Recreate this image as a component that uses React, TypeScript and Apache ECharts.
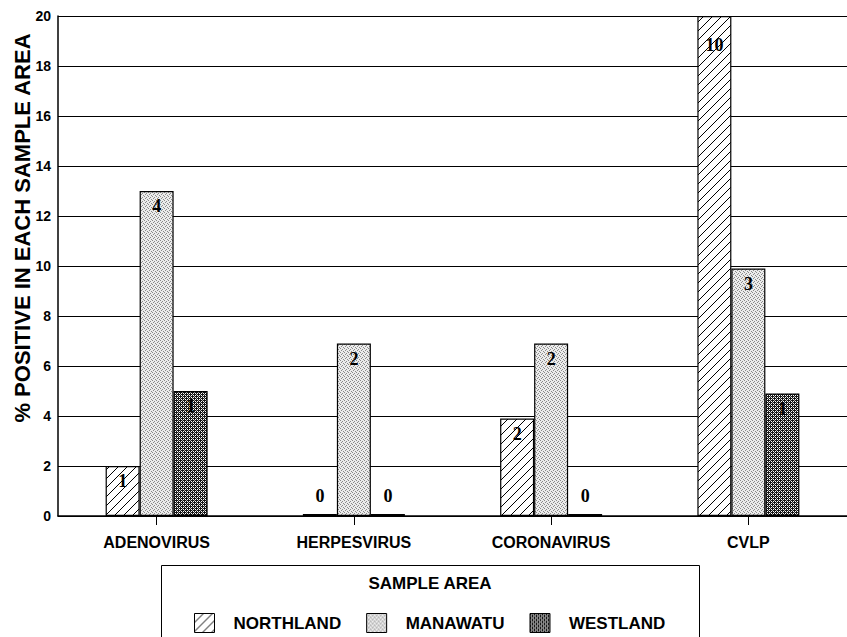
import React, { useEffect, useRef } from 'react';
import * as echarts from 'echarts';

const categories = ['ADENOVIRUS', 'HERPESVIRUS', 'CORONAVIRUS', 'CVLP'];
const seriesNames = ['NORTHLAND', 'MANAWATU', 'WESTLAND'];
const northland = [2, 0, 3.9, 20];
const manawatu = [13, 6.9, 6.9, 9.9];
const westland = [5, 0, 0, 4.9];
const northlandCounts = [1, 0, 2, 10];
const manawatuCounts = [4, 2, 2, 3];
const westlandCounts = [1, 0, 0, 1];
const yMin = 0;
const yMax = 20;
const yStep = 2;
const yTitle = '% POSITIVE IN EACH SAMPLE AREA';
const legendTitle = 'SAMPLE AREA';

const SANS = '"Liberation Sans", Arial, sans-serif';
const SERIF = '"Liberation Serif", "Times New Roman", serif';

function makeTile(size: number, draw: (ctx: CanvasRenderingContext2D, s: number) => void) {
  const c = document.createElement('canvas');
  c.width = size;
  c.height = size;
  const ctx = c.getContext('2d') as CanvasRenderingContext2D;
  draw(ctx, size);
  return { image: c, repeat: 'repeat', imageWidth: size, imageHeight: size } as any;
}

function hatchPattern() {
  return makeTile(9, (ctx, s) => {
    ctx.fillStyle = '#fff';
    ctx.fillRect(0, 0, s, s);
    ctx.strokeStyle = '#000';
    ctx.lineWidth = 1;
    ctx.beginPath();
    ctx.moveTo(0, s);
    ctx.lineTo(s, 0);
    ctx.moveTo(-1, 1);
    ctx.lineTo(1, -1);
    ctx.moveTo(s - 1, s + 1);
    ctx.lineTo(s + 1, s - 1);
    ctx.stroke();
  });
}

function stipplePattern() {
  return makeTile(4, (ctx, s) => {
    ctx.fillStyle = '#ececec';
    ctx.fillRect(0, 0, s, s);
    ctx.fillStyle = '#8a8a8a';
    ctx.fillRect(0, 0, 1, 1);
    ctx.fillRect(2, 1, 1, 1);
    ctx.fillRect(1, 2, 1, 1);
    ctx.fillRect(3, 3, 1, 1);
  });
}

function checkPattern() {
  return makeTile(4, (ctx, s) => {
    ctx.fillStyle = '#151515';
    ctx.fillRect(0, 0, s, s);
    ctx.fillStyle = '#ffffff';
    ctx.fillRect(1, 1, 1, 1);
    ctx.fillRect(3, 3, 1, 1);
    ctx.fillRect(1, 3, 1, 1);
    ctx.fillRect(3, 1, 1, 1);
    ctx.fillStyle = '#b0b0b0';
    ctx.fillRect(0, 2, 1, 1);
    ctx.fillRect(2, 0, 1, 1);
  });
}

export default function App() {
  const ref = useRef<HTMLDivElement>(null);

  useEffect(() => {
    if (!ref.current) return;
    const chart = echarts.init(ref.current, undefined, { renderer: 'svg' });

    const labelBase = {
      show: true,
      position: 'insideTop',
      distance: 6,
      fontFamily: SERIF,
      fontWeight: 'bold',
      fontSize: 18,
      color: '#000',
    };

    const makeSeries = (name: string, values: number[], counts: number[], pattern: any) => ({
      name,
      type: 'bar',
      barWidth: 34,
      barGap: '0%',
      barMinHeight: 2,
      data: values.map((v) => {
        const item: any = { value: v };
        if (v === 0) item.label = { position: 'top', distance: 9 };
        else if (v >= yMax) item.label = { position: 'insideTop', distance: 20 };
        return item;
      }),
      itemStyle: { color: pattern, borderColor: '#000', borderWidth: 1.2 },
      label: { ...labelBase, formatter: (p: any) => String(counts[p.dataIndex]) },
    });

    const option: any = {
      animation: false,
      backgroundColor: '#fff',
      grid: { left: 58, top: 16, width: 802, height: 500 },
      xAxis: {
        type: 'category',
        data: categories,
        axisLine: { show: true, lineStyle: { color: '#000', width: 1.5 } },
        axisTick: { show: true, alignWithLabel: true, length: 9, lineStyle: { color: '#000', width: 1 } },
        axisLabel: {
          color: '#000',
          fontFamily: SANS,
          fontWeight: 'bold',
          fontSize: 16,
          margin: 18,
        },
      },
      yAxis: {
        type: 'value',
        min: yMin,
        max: yMax,
        interval: yStep,
        axisLine: { show: true, lineStyle: { color: '#000', width: 1.5 } },
        axisTick: { show: false },
        axisLabel: {
          color: '#000',
          fontFamily: SANS,
          fontWeight: 'bold',
          fontSize: 14,
          margin: 7,
        },
        splitLine: { show: true, lineStyle: { color: '#000', width: 1.2 } },
      },
      legend: {
        data: seriesNames,
        left: 189,
        top: 608,
        icon: 'rect',
        itemWidth: 20,
        itemHeight: 19,
        itemGap: 25,
        textStyle: {
          color: '#000',
          fontFamily: SANS,
          fontWeight: 'bold',
          fontSize: 17,
          padding: [0, 0, 0, 14],
        },
        itemStyle: { borderColor: '#000', borderWidth: 1 },
      },
      graphic: [
        {
          type: 'rect',
          shape: { x: 161.5, y: 565.5, width: 538, height: 100 },
          style: { fill: 'none', stroke: '#000', lineWidth: 1 },
          silent: true,
        },
        {
          type: 'text',
          x: 430,
          y: 583,
          style: {
            text: legendTitle,
            align: 'center',
            verticalAlign: 'middle',
            fontFamily: SANS,
            fontWeight: 'bold',
            fontSize: 17,
            fill: '#000',
          },
        },
        {
          type: 'text',
          x: 22,
          y: 228,
          rotation: Math.PI / 2,
          style: {
            text: yTitle,
            align: 'center',
            verticalAlign: 'middle',
            fontFamily: SANS,
            fontWeight: 'bold',
            fontSize: 22,
            fill: '#000',
          },
        },
      ],
      series: [
        makeSeries(seriesNames[0], northland, northlandCounts, hatchPattern()),
        makeSeries(seriesNames[1], manawatu, manawatuCounts, stipplePattern()),
        makeSeries(seriesNames[2], westland, westlandCounts, checkPattern()),
      ],
    };

    chart.setOption(option);
    return () => chart.dispose();
  }, []);

  return (
    <div
      ref={ref}
      style={{ position: 'fixed', left: 0, top: 0, width: 847, height: 637, background: '#fff' }}
    />
  );
}
